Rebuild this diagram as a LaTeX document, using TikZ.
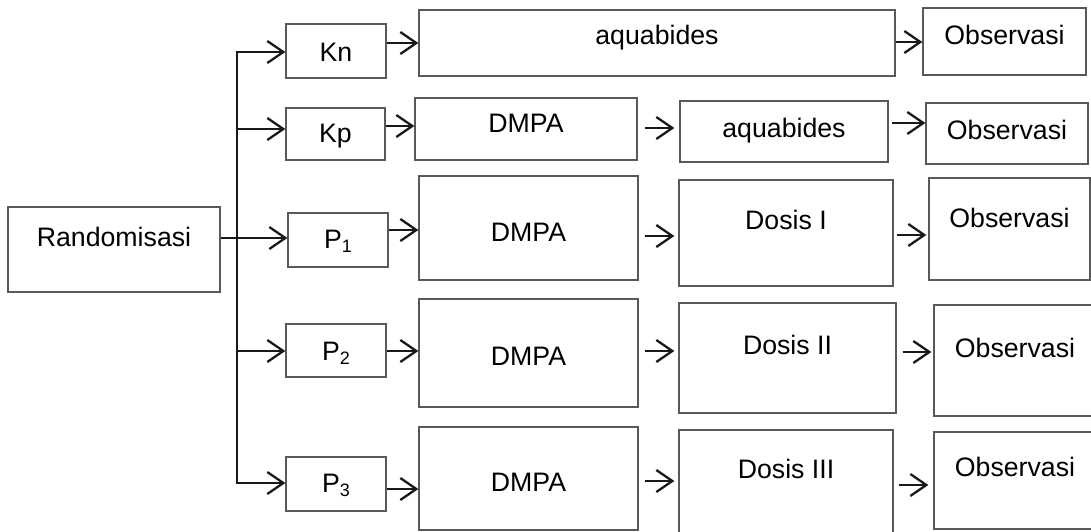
\documentclass[tikz,border=0pt]{standalone}
\usepackage{fontspec}
\setmainfont{Liberation Sans}
\usetikzlibrary{arrows.meta,calc}

% box: name, centre x, centre y, width, height (pixel-like units, y downwards)
\newcommand\flowbox[5]{\node[box, minimum width=#4pt, minimum height=#5pt] (#1) at (#2,#3) {};}
% text placed in a box: name, x, y, text
\newcommand\boxtext[4]{\node[txt] (#1) at (#2,#3) {#4};}
% horizontal arrow from the east side of #2 to the west side of #3, offset #4 from #2's centre line
\newcommand\flowlink[4][]{\draw[arr,#1] ($(#2.east)+(0,#4)$) -- ($(#2.east -| #3.west)+(0,#4)$);}
% branch from the trunk into box #1, offset #2 from its centre line
\newcommand\branch[2]{\draw[arr] ($(trunk-top |- #1.west)+(0,#2)$) -- ($(#1.west)+(0,#2)$);}
% index written below the letter P
\newcommand\sub[1]{\raisebox{-4pt}{\fontsize{18}{18}\selectfont #1}}

\begin{document}
\begin{tikzpicture}[x=1pt,y=-1pt,
  box/.style={draw=black!65, line width=1.3pt, rectangle, inner sep=0pt, fill=white},
  txt/.style={font=\fontsize{26.7}{31}\selectfont, inner sep=0pt, text height=19pt, text depth=0pt},
  wire/.style={line width=2.3pt, draw=black!90},
  arr/.style={wire, -{Straight Barb[length=16pt,width=22pt]}}]

\useasboundingbox (0,0) rectangle (1091,531);
\clip (0,0) rectangle (1091,531);

% start box
\flowbox{rand}{114}{249.5}{212}{85}
\boxtext{rand-t}{114}{237}{Randomisasi}

% group boxes
\flowbox{kn}{336}{51}{100}{54}
\boxtext{kn-t}{336}{52}{Kn}
\flowbox{kp}{335.5}{134}{99}{52}
\boxtext{kp-t}{335.5}{133}{Kp}
\flowbox{p1}{338}{240}{100}{54}
\boxtext{p1-t}{338}{239}{P\sub{1}}
\flowbox{p2}{336}{350.5}{100}{53}
\boxtext{p2-t}{336}{351}{P\sub{2}}
\flowbox{p3}{336}{484}{100}{54}
\boxtext{p3-t}{336}{483}{P\sub{3}}

% row Kn
\flowbox{aq1}{657}{43}{476}{66}
\boxtext{aq1-t}{657}{35}{aquabides}
\flowbox{ob1}{1004.5}{41.5}{163}{67}
\boxtext{ob1-t}{1004.5}{35}{Observasi}

% row Kp
\flowbox{dm1}{526}{129}{222}{62}
\boxtext{dm1-t}{526}{123}{DMPA}
\flowbox{aq2}{784}{131.5}{208}{61}
\boxtext{aq2-t}{784}{128}{aquabides}
\flowbox{ob2}{1007}{133.5}{162}{61}
\boxtext{ob2-t}{1007}{130}{Observasi}

% row P1
\flowbox{dm2}{528.5}{228}{219}{104}
\boxtext{dm2-t}{528.5}{232}{DMPA}
\flowbox{ds1}{786}{233}{214}{106}
\boxtext{ds1-t}{786}{220}{Dosis I}
\flowbox{ob3}{1009.5}{229}{161}{102}
\boxtext{ob3-t}{1009.5}{218}{Observasi}

% row P2
\flowbox{dm3}{528.5}{353}{219}{108}
\boxtext{dm3-t}{528.5}{356}{DMPA}
\flowbox{ds2}{787.5}{358}{217}{110}
\boxtext{ds2-t}{787.5}{345}{Dosis II}
\flowbox{ob4}{1015}{360.5}{162}{111}
\boxtext{ob4-t}{1015}{348}{Observasi}

% row P3
\flowbox{dm4}{528.5}{478.5}{219}{103}
\boxtext{dm4-t}{528.5}{482}{DMPA}
\flowbox{ds3}{786}{487.5}{214}{115}
\boxtext{ds3-t}{786}{469}{Dosis III}
\flowbox{ob5}{1015}{480.5}{162}{97}
\boxtext{ob5-t}{1015}{467}{Observasi}

% trunk and branches
\coordinate (trunk-top) at (237,52);
\coordinate (trunk-bot) at (237,483);
\draw[wire, line cap=rect] (trunk-top) -- (trunk-bot);
\draw[wire] ($(rand.east)+(0,-11.5)$) -- ($(rand.east -| trunk-top)+(0,-11.5)$);
\branch{kn}{1}
\branch{kp}{-5}
\branch{p1}{-2}
\branch{p2}{0.5}
\branch{p3}{-1}

% arrows along each row
\flowlink{kn}{aq1}{-8}
\flowlink{aq1}{ob1}{-1}
\flowlink{kp}{dm1}{-8}
\flowlink[shorten <=7pt, shorten >=5pt]{dm1}{aq2}{-1}
\flowlink[shorten <=3pt]{aq2}{ob2}{-8.5}
\flowlink{p1}{dm2}{-10}
\flowlink[shorten <=6pt, shorten >=4pt]{dm2}{ds1}{8}
\flowlink[shorten <=3pt, shorten >=2pt]{ds1}{ob3}{2}
\flowlink{p2}{dm3}{0.5}
\flowlink[shorten <=6pt, shorten >=4pt]{dm3}{ds2}{-2}
\flowlink[shorten <=6pt, shorten >=2pt]{ds2}{ob4}{-6}
\flowlink{p3}{dm4}{5}
\flowlink[shorten <=6pt, shorten >=4pt]{dm4}{ds3}{2.5}
\flowlink[shorten <=5pt, shorten >=5pt]{ds3}{ob5}{-2.5}
\end{tikzpicture}
\end{document}
